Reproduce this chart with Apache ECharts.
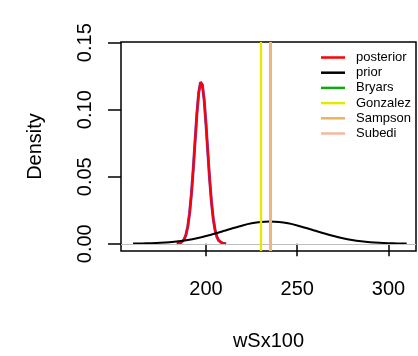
<!DOCTYPE html>
<html>
<head>
<meta charset="utf-8">
<script src="https://cdn.jsdelivr.net/npm/echarts@6/dist/echarts.min.js"></script>
<style>
html,body{margin:0;padding:0;background:#fff;}
#chart{width:418px;height:356px;}
</style>
</head>
<body>
<div id="chart"></div>
<script>
const priorX = [160,165,170,175,180,185,190,195,200,205,210,215,220,225,230,235,240,245,250,255,260,265,270,275,280,285,290,295,300,305,310];
const priorY = [0.00013,0.00024,0.00042,0.00073,0.00120,0.00190,0.00287,0.00415,0.00574,0.00761,0.00966,0.01174,0.01367,0.01524,0.01626,0.01662,0.01626,0.01524,0.01367,0.01174,0.00966,0.00761,0.00574,0.00415,0.00287,0.00190,0.00120,0.00073,0.00042,0.00024,0.00013];
const postX = [184,185,186,187,188,189,190,191,192,193,194,195,196,197,198,199,200,201,202,203,204,205,206,207,208,209,210,211];
const postY = [0.00007,0.00021,0.00057,0.00140,0.00320,0.00670,0.01290,0.02285,0.03718,0.05566,0.07658,0.09688,0.11271,0.12054,0.11853,0.10717,0.08908,0.06809,0.04785,0.03091,0.01836,0.01002,0.00503,0.00232,0.00099,0.00038,0.00014,0.00005];
const refNames = ['Bryars','Gonzalez','Sampson','Subedi'];
const refValues = [235, 230, 235, 235];
const refColors = ['#11A811','#E6E600','#E8B55A','#F2B8A2'];
const refOpacity = [1, 1, 1, 0.5];
const xTicks = [200, 250, 300];
const yTicks = [0, 0.05, 0.10, 0.15];

const FONT = '"Liberation Sans", Arial, Helvetica, sans-serif';
const pair = (xs, ys) => xs.map((x, i) => [x, ys[i]]);

const series = [
  {
    name: 'zero', type: 'line', data: [], silent: true,
    markLine: { silent: true, symbol: 'none', label: { show: false },
      lineStyle: { color: '#BEBEBE', width: 1.2, type: 'solid' },
      data: [{ yAxis: 0 }] }
  },
  {
    name: 'post_under', type: 'line', data: pair(postX, postY), showSymbol: false,
    lineStyle: { color: '#6A3FC8', width: 3 }, silent: true
  },
  {
    name: 'posterior', type: 'line', data: pair(postX, postY), showSymbol: false,
    color: '#FF0000', lineStyle: { color: '#FF0000', width: 2.2 }, silent: true
  },
  {
    name: 'prior', type: 'line', data: pair(priorX, priorY), showSymbol: false, smooth: 0.3,
    color: '#000000', lineStyle: { color: '#000000', width: 2 }, silent: true
  }
];
refNames.forEach((n, i) => {
  series.push({
    name: n, type: 'line', data: [], color: refColors[i], silent: true,
    markLine: { silent: true, symbol: 'none', label: { show: false },
      lineStyle: { color: refColors[i], width: i === 1 ? 2.3 : 3, type: 'solid', opacity: refOpacity[i] },
      data: [{ xAxis: refValues[i] }] }
  });
});

const legendNames = ['posterior','prior'].concat(refNames);
const legendColors = ['#FF0000','#000000'].concat(refColors);

const option = {
  animation: false,
  backgroundColor: '#ffffff',
  textStyle: { fontFamily: FONT },
  grid: { left: 121, right: 2, top: 42, bottom: 102, show: true, borderColor: '#000', borderWidth: 1.5, backgroundColor: 'transparent' },
  legend: {
    orient: 'vertical', left: 321, top: 50, padding: 0, itemGap: 0.2,
    itemWidth: 24, itemHeight: 2.5, icon: 'rect', selectedMode: false,
    data: legendNames.map((n, i) => ({ name: n, itemStyle: { color: legendColors[i] } })),
    textStyle: { fontFamily: FONT, fontSize: 13, color: '#000', lineHeight: 15, padding: [0, 0, 0, 6] }
  },
  xAxis: {
    type: 'value', min: 153.4, max: 315.1,
    name: 'wSx100', nameLocation: 'middle', nameGap: 80,
    nameTextStyle: { fontFamily: FONT, fontSize: 20, color: '#000' },
    axisLine: { show: false },
    splitLine: { show: false },
    axisTick: { show: true, inside: false, length: 12.5, customValues: xTicks, lineStyle: { color: '#000', width: 1.5 } },
    axisLabel: { customValues: xTicks, margin: 28, fontFamily: FONT, fontSize: 20, color: '#000' }
  },
  yAxis: {
    type: 'value', min: -0.0054, max: 0.1505,
    name: 'Density', nameLocation: 'middle', nameGap: 76, nameRotate: 90,
    nameTextStyle: { fontFamily: FONT, fontSize: 20, color: '#000' },
    axisLine: { show: false },
    splitLine: { show: false },
    axisTick: { show: true, inside: false, length: 13, customValues: yTicks, lineStyle: { color: '#000', width: 1.5 } },
    axisLabel: { customValues: yTicks, rotate: 90, margin: 26, fontFamily: FONT, fontSize: 20, color: '#000',
      formatter: v => v.toFixed(2) }
  },
  series: series
};

const chart = echarts.init(document.getElementById('chart'), null, { renderer: 'canvas' });
chart.setOption(option);
</script>
</body>
</html>
